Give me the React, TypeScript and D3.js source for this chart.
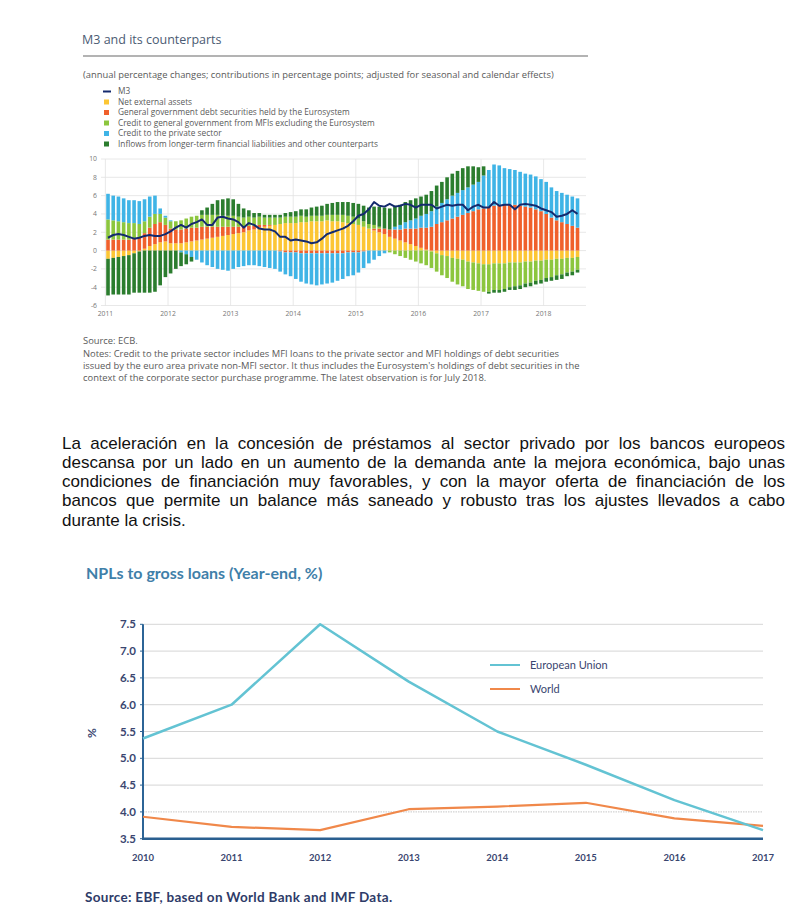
import React from 'react';
import * as d3 from 'd3';

// ---------- Top chart data (monthly, Jan 2011 – Jul 2018) ----------
const yearLabels = ['2011', '2012', '2013', '2014', '2015', '2016', '2017', '2018'];
const topTicks = [10, 8, 6, 4, 2, 0, -2, -4, -6];

const m3 = [
  1.4, 1.7, 1.8, 1.7, 1.5, 1.3, 1.4, 1.6, 1.7, 1.6, 1.6, 1.8,
  2.1, 2.5, 2.8, 2.5, 2.9, 3.1, 3.4, 2.8, 2.8, 3.6, 3.7, 3.5,
  3.4, 3.1, 2.5, 3.0, 2.8, 2.4, 2.3, 2.3, 2.1, 1.5, 1.5, 1.1,
  1.2, 1.1, 1.0, 0.8, 0.9, 1.3, 1.8, 2.0, 2.2, 2.4, 2.7, 3.2,
  3.8, 4.0, 4.5, 5.3, 4.9, 4.8, 5.1, 4.8, 4.9, 5.1, 5.0, 4.7,
  5.0, 5.0, 5.0, 4.6, 4.8, 5.0, 4.9, 5.0, 5.0, 4.4, 4.8, 5.0,
  4.7, 4.7, 5.3, 4.9, 5.0, 5.0, 4.5, 5.0, 5.1, 5.0, 4.9, 4.6,
  4.4, 4.2, 3.7, 3.8, 4.0, 4.4, 4.0,
];
const netExternal = [
  -0.9, -0.8, -0.7, -0.6, -0.5, -0.3, -0.1, 0.2, 0.5, 0.7, 0.9, 1.0,
  0.8, 0.8, 0.8, 0.9, 1.0, 1.1, 1.2, 1.3, 1.4, 1.5, 1.6, 1.7,
  1.8, 1.9, 2.0, 2.2, 2.3, 2.5, 2.6, 2.7, 2.8, 2.9, 3.0, 3.0,
  3.0, 3.1, 3.1, 3.2, 3.2, 3.2, 3.3, 3.2, 3.2, 3.1, 3.0, 2.9,
  2.8, 2.6, 2.4, 2.2, 2.0, 1.8, 1.5, 1.3, 1.1, 0.9, 0.7, 0.5,
  0.3, 0.1, -0.1, -0.3, -0.5, -0.6, -0.8, -0.9, -1.0, -1.2, -1.3, -1.4,
  -1.5, -1.5, -1.4, -1.4, -1.4, -1.3, -1.3, -1.3, -1.2, -1.2, -1.1, -1.1,
  -1.0, -1.0, -0.9, -0.9, -0.8, -0.8, -0.7,
];
const govEurosystem = [
  1.2, 1.2, 1.2, 1.2, 1.2, 1.3, 1.4, 1.7, 2.0, 2.2, 2.2, 1.8,
  1.6, 1.5, 1.5, 1.5, 1.5, 1.4, 1.4, 1.3, 1.2, 1.1, 1.0, 0.9,
  0.8, 0.7, 0.6, 0.5, 0.4, 0.3, 0.2, 0.1, 0.0, -0.1, -0.2, -0.2,
  -0.2, -0.3, -0.3, -0.3, -0.3, -0.3, -0.3, -0.3, -0.3, -0.3, -0.2, -0.2,
  -0.2, -0.1, 0.0, 0.2, 0.4, 0.6, 0.8, 1.0, 1.2, 1.5, 1.7, 1.9,
  2.2, 2.4, 2.6, 2.9, 3.1, 3.3, 3.5, 3.7, 3.9, 4.1, 4.3, 4.5,
  4.6, 4.8, 4.9, 5.0, 5.0, 5.0, 5.0, 4.9, 4.8, 4.7, 4.5, 4.3,
  4.0, 3.6, 3.3, 3.1, 2.9, 2.7, 2.5,
];
const govMFI = [
  2.2, 2.1, 2.0, 1.9, 1.8, 1.7, 1.5, 1.3, 1.2, 1.1, 0.9, 0.8,
  0.8, 0.9, 1.0, 1.1, 1.2, 1.3, 1.3, 1.3, 1.3, 1.3, 1.2, 1.2,
  1.2, 1.1, 1.0, 1.0, 0.9, 0.9, 0.8, 0.8, 0.8, 0.7, 0.7, 0.7,
  0.7, 0.7, 0.6, 0.6, 0.6, 0.6, 0.6, 0.7, 0.7, 0.8, 0.8, 0.8,
  0.7, 0.6, 0.5, 0.4, 0.2, 0.0, -0.2, -0.4, -0.6, -0.8, -1.0, -1.2,
  -1.4, -1.6, -1.8, -2.0, -2.2, -2.4, -2.6, -2.8, -2.9, -3.0, -3.0, -3.0,
  -3.0, -3.0, -2.9, -2.9, -2.8, -2.7, -2.6, -2.5, -2.4, -2.3, -2.2, -2.1,
  -2.0, -1.9, -1.8, -1.7, -1.6, -1.5, -1.4,
];
const privateCredit = [
  2.8, 2.7, 2.7, 2.6, 2.5, 2.5, 2.5, 2.4, 2.2, 2.0, 0.6, 0.2,
  0.1, 0.0, -0.2, -0.4, -0.7, -1.0, -1.3, -1.6, -1.8, -2.0, -2.1, -2.2,
  -2.0, -1.8, -1.7, -1.6, -1.6, -1.7, -1.8, -1.9, -2.0, -2.2, -2.4, -2.6,
  -2.9, -3.1, -3.3, -3.4, -3.5, -3.4, -3.3, -3.2, -3.0, -2.8, -2.6, -2.5,
  -2.2, -1.8, -1.4, -1.0, -0.6, -0.3, 0.0, 0.3, 0.5, 0.7, 0.9, 1.1,
  1.3, 1.5, 1.7, 1.9, 2.1, 2.3, 2.5, 2.6, 2.7, 2.8, 2.9, 3.0,
  3.6, 4.0, 4.5, 4.3, 4.0, 3.9, 3.8, 3.7, 3.6, 3.6, 3.6, 3.5,
  3.5, 3.3, 3.2, 3.2, 3.2, 3.2, 3.2,
];
const longTerm = [
  -4.0, -4.0, -4.1, -4.2, -4.3, -4.3, -4.5, -4.6, -4.6, -4.5, -3.8, -2.9,
  -2.5, -2.0, -1.5, -1.1, -0.5, 0.0, 0.5, 0.8, 1.2, 1.6, 1.8, 1.9,
  1.8, 1.4, 1.0, 0.7, 0.5, 0.4, 0.3, 0.3, 0.3, 0.3, 0.4, 0.5,
  0.6, 0.7, 0.8, 0.9, 1.0, 1.1, 1.2, 1.3, 1.4, 1.4, 1.5, 1.5,
  1.6, 1.7, 1.8, 2.0, 2.2, 2.3, 2.3, 2.3, 2.2, 2.2, 2.2, 2.2,
  2.1, 2.1, 2.2, 2.3, 2.3, 2.4, 2.4, 2.4, 2.4, 2.3, 2.0, 1.6,
  1.0, -0.2, -0.3, -0.3, -0.3, -0.3, -0.4, -0.4, -0.4, -0.4, -0.4, -0.4,
  -0.4, -0.4, -0.5, -0.5, -0.4, -0.4, -0.3,
];

const seriesKeys = ['netExternal', 'govEurosystem', 'govMFI', 'privateCredit', 'longTerm'];
const seriesLabels = [
  'Net external assets',
  'General government debt securities held by the Eurosystem',
  'Credit to general government from MFIs excluding the Eurosystem',
  'Credit to the private sector',
  'Inflows from longer-term financial liabilities and other counterparts',
];
const seriesColors = ['#fcc634', '#f0602c', '#8cc63e', '#3fb4e6', '#2b7d2e'];
const m3Color = '#142a6e';

// ---------- Bottom chart data ----------
const nplYears = [2010, 2011, 2012, 2013, 2014, 2015, 2016, 2017];
const euNPL = [5.37, 6.0, 7.5, 6.43, 5.5, 4.88, 4.22, 3.66];
const worldNPL = [3.91, 3.72, 3.66, 4.05, 4.1, 4.17, 3.88, 3.74];
const nplTicks = [3.5, 4.0, 4.5, 5.0, 5.5, 6.0, 6.5, 7.0, 7.5];

const paragraph = [
  'La aceleración en la concesión de préstamos al sector privado por los bancos europeos',
  'descansa por un lado en un aumento de la demanda ante la mejora económica, bajo unas',
  'condiciones de financiación muy favorables, y con la mayor oferta de financiación de los',
  'bancos que permite un balance más saneado y robusto tras los ajustes llevados a cabo',
  'durante la crisis.',
];

const notes = [
  'Source: ECB.',
  'Notes: Credit to the private sector includes MFI loans to the private sector and MFI holdings of debt securities',
  "issued by the euro area private non-MFI sector. It thus includes the Eurosystem's holdings of debt securities in the",
  'context of the corporate sector purchase programme. The latest observation is for July 2018.',
];

function measure(text: string, font: string): number {
  try {
    const c = document.createElement('canvas').getContext('2d');
    if (!c) return 0;
    c.font = font;
    return c.measureText(text).width;
  } catch (e) {
    return 0;
  }
}

function TopChart() {
  const n = m3.length;
  const step = 62.6 / 12;
  const x = d3.scaleLinear().domain([0, n + 1]).range([105.4, 105.4 + (n + 1) * step]);
  const y = d3.scaleLinear().domain([-6, 10]).range([305.5, 159]);
  const rows = m3.map((_, i) => ({
    netExternal: netExternal[i],
    govEurosystem: govEurosystem[i],
    govMFI: govMFI[i],
    privateCredit: privateCredit[i],
    longTerm: longTerm[i],
  }));
  const stacked = d3.stack<any>().keys(seriesKeys).offset(d3.stackOffsetDiverging)(rows);
  const barW = 3.6;
  const line = d3
    .line<number>()
    .x((_, i) => x(i + 0.5))
    .y((d) => y(d));
  const font = "'Open Sans', 'DejaVu Sans', sans-serif";
  const legendY = [91.5, 102, 112.5, 123, 133.5, 144];
  return (
    <g fontFamily={font}>
      <text x={82} y={44} fontSize={12.5} fill="#4b5b73">M3 and its counterparts</text>
      <line x1={83} x2={588} y1={56} y2={56} stroke="#9a9a9a" strokeWidth={1.5} />
      <text x={83} y={78} fontSize={9.4} fill="#5a5a5a">
        (annual percentage changes; contributions in percentage points; adjusted for seasonal and calendar effects)
      </text>
      {/* legend */}
      <line x1={103} x2={111} y1={legendY[0]} y2={legendY[0]} stroke={m3Color} strokeWidth={2} />
      <text x={118} y={legendY[0] + 2.8} fontSize={8.3} fill="#5a5a5a">M3</text>
      {seriesLabels.map((lab, k) => (
        <g key={lab}>
          <rect x={104} y={legendY[k + 1] - 2.5} width={5} height={5} fill={seriesColors[k]} />
          <text x={118} y={legendY[k + 1] + 2.8} fontSize={8.3} fill="#5a5a5a">{lab}</text>
        </g>
      ))}
      {/* grid */}
      {topTicks.map((t) => (
        <g key={t}>
          <line x1={101} x2={586} y1={y(t)} y2={y(t)} stroke="#e2e2e2" strokeWidth={0.8} />
          <text x={97} y={y(t) + 2.4} fontSize={6.8} textAnchor="end" fill="#777">{t}</text>
        </g>
      ))}
      {yearLabels.map((yl, k) => (
        <g key={yl}>
          <line x1={x(12 * k)} x2={x(12 * k)} y1={y(10)} y2={y(-6)} stroke="#e2e2e2" strokeWidth={0.8} />
          <text x={x(12 * k)} y={315.5} fontSize={6.8} textAnchor="middle" fill="#777">{yl}</text>
        </g>
      ))}
      {/* bars */}
      {stacked.map((s, k) => (
        <g key={s.key} fill={seriesColors[k]}>
          {s.map((d, i) => {
            const y0 = y(d[0]);
            const y1 = y(d[1]);
            const h = Math.abs(y0 - y1);
            if (h < 0.01) return null;
            return <rect key={i} x={x(i + 0.5) - barW / 2} y={Math.min(y0, y1)} width={barW} height={h} />;
          })}
        </g>
      ))}
      <path d={line(m3) || ''} fill="none" stroke={m3Color} strokeWidth={2} strokeLinejoin="round" />
      {/* notes */}
      {notes.map((t, k) => (
        <text key={k} x={83} y={[344, 356.5, 368.5, 380.5][k]} fontSize={9.4} fill="#5a5a5a">{t}</text>
      ))}
    </g>
  );
}

function Paragraph() {
  const font = "'Liberation Sans', Arial, sans-serif";
  const size = 17;
  const left = 62;
  const width = 723;
  const baselines = [448.5, 467.5, 487, 506, 525.5];
  return (
    <g fontFamily={font} fontSize={size} fill="#111">
      {paragraph.map((line, k) => {
        const last = k === paragraph.length - 1;
        let ws = 0;
        if (!last) {
          const w = measure(line, `${size}px 'Liberation Sans'`);
          const spaces = (line.match(/ /g) || []).length;
          if (w > 0 && spaces > 0) ws = (width - w) / spaces;
        }
        return (
          <text key={k} x={left} y={baselines[k]} style={{ wordSpacing: `${ws}px` }}>
            {line}
          </text>
        );
      })}
    </g>
  );
}

function BottomChart() {
  const x = d3.scaleLinear().domain([2010, 2017]).range([143, 763]);
  const y = d3.scaleLinear().domain([3.5, 7.5]).range([838.7, 624.3]);
  const line = d3
    .line<number>()
    .x((_, i) => x(nplYears[i]))
    .y((d) => y(d));
  const font = "Lato, 'Noto Sans', sans-serif";
  const navy = '#3a4670';
  return (
    <g fontFamily={font}>
      <text x={86} y={579} fontSize={16} fontWeight={700} fill="#3f80a9">NPLs to gross loans (Year-end, %)</text>
      {nplTicks.map((t) => (
        <g key={t}>
          {t > 3.5 && (
            <line
              x1={143}
              x2={763}
              y1={y(t)}
              y2={y(t)}
              stroke={t === 4.0 ? '#c8c8c8' : '#d6d6d6'}
              strokeWidth={1}
              strokeDasharray={t === 4.0 ? '1.5,1' : undefined}
            />
          )}
          <line x1={140} x2={143} y1={y(t)} y2={y(t)} stroke="#2c6496" strokeWidth={1} />
          <text x={136} y={y(t) + 4} fontSize={11.5} fontWeight={700} textAnchor="end" fill={navy}>
            {t.toFixed(1)}
          </text>
        </g>
      ))}
      {nplYears.map((yr) => (
        <text key={yr} x={x(yr)} y={861} fontSize={9.5} fontWeight={700} textAnchor="middle" fill={navy}>
          {yr}
        </text>
      ))}
      <text
        transform={`translate(96,733) rotate(-90)`}
        fontSize={12}
        fontWeight={700}
        textAnchor="middle"
        fill={navy}
      >
        %
      </text>
      <line x1={143} x2={143} y1={y(7.5)} y2={y(3.5)} stroke="#2c6496" strokeWidth={2} />
      <path d={line(worldNPL) || ''} fill="none" stroke="#f0884a" strokeWidth={2.2} strokeLinejoin="round" />
      <path d={line(euNPL) || ''} fill="none" stroke="#63c3d3" strokeWidth={2.5} strokeLinejoin="round" />
      <line x1={142} x2={763} y1={y(3.5)} y2={y(3.5)} stroke="#2a5f90" strokeWidth={2.5} />
      {/* legend */}
      <line x1={490} x2={520} y1={665} y2={665} stroke="#63c3d3" strokeWidth={2} />
      <text x={530} y={669} fontSize={11} fill={navy}>European Union</text>
      <line x1={490} x2={520} y1={689} y2={689} stroke="#f0884a" strokeWidth={2} />
      <text x={530} y={693} fontSize={11} fill={navy}>World</text>
      <text x={85} y={902} fontSize={13.5} fontWeight={700} letterSpacing={0.3} fill="#2e3b68">
        Source: EBF, based on World Bank and IMF Data.
      </text>
    </g>
  );
}

export default function App() {
  return (
    <div style={{ position: 'absolute', left: 0, top: 0, width: 800, height: 915, background: '#fff' }}>
      <svg width={800} height={915} viewBox="0 0 800 915" style={{ display: 'block' }}>
        <rect width={800} height={915} fill="#fff" />
        <TopChart />
        <Paragraph />
        <BottomChart />
      </svg>
    </div>
  );
}
